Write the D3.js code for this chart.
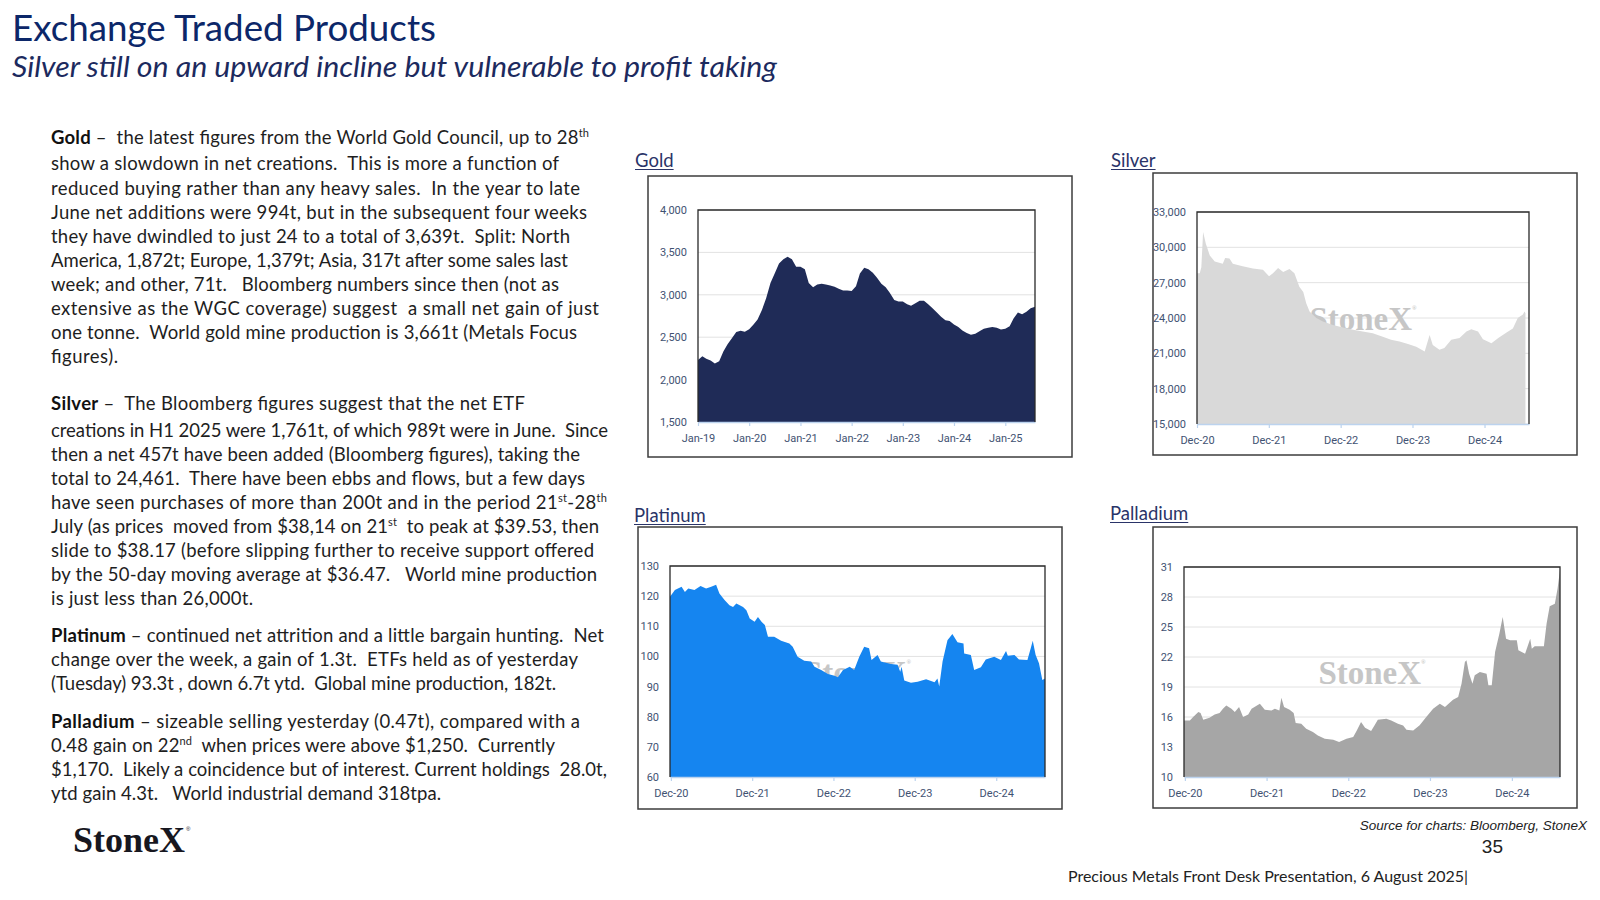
<!DOCTYPE html>
<html>
<head>
<meta charset="utf-8">
<script src="https://cdnjs.cloudflare.com/ajax/libs/d3/7.8.5/d3.min.js"></script>
<style>
  html, body { margin: 0; padding: 0; background: #ffffff; }
  svg { display: block; }
</style>
</head>
<body>
<svg id="slide" width="1600" height="900"></svg>
<script>
// ---------------- DATA ----------------
const goldDates = [
  "2019-01","2019-02","2019-03","2019-04","2019-05","2019-06","2019-07","2019-08","2019-09","2019-10","2019-11","2019-12",
  "2020-01","2020-02","2020-03","2020-04","2020-05","2020-06","2020-07","2020-08","2020-09","2020-10","2020-11","2020-12",
  "2021-01","2021-02","2021-03","2021-04","2021-05","2021-06","2021-07","2021-08","2021-09","2021-10","2021-11","2021-12",
  "2022-01","2022-02","2022-03","2022-04","2022-05","2022-06","2022-07","2022-08","2022-09","2022-10","2022-11","2022-12",
  "2023-01","2023-02","2023-03","2023-04","2023-05","2023-06","2023-07","2023-08","2023-09","2023-10","2023-11","2023-12",
  "2024-01","2024-02","2024-03","2024-04","2024-05","2024-06","2024-07","2024-08","2024-09","2024-10","2024-11","2024-12",
  "2025-01","2025-02","2025-03","2025-04","2025-05","2025-06","2025-07","2025-08"
];
const goldValues = [
  2230,2275,2245,2225,2190,2215,2330,2420,2490,2560,2575,2565,
  2595,2650,2710,2820,2960,3140,3250,3370,3420,3450,3420,3330,
  3330,3300,3140,3090,3120,3130,3120,3110,3095,3070,3050,3050,
  3045,3100,3250,3320,3300,3260,3200,3130,3090,3020,2940,2920,
  2920,2890,2870,2900,2930,2930,2890,2840,2790,2740,2700,2690,
  2650,2620,2580,2550,2530,2540,2570,2600,2610,2620,2610,2590,
  2600,2630,2720,2790,2770,2800,2840,2860
];
const goldYTicks = [1500, 2000, 2500, 3000, 3500, 4000];
const goldXTicks = ["2019-01","2020-01","2021-01","2022-01","2023-01","2024-01","2025-01"];
const goldXLabels = ["Jan-19","Jan-20","Jan-21","Jan-22","Jan-23","Jan-24","Jan-25"];
const goldDomain = ["2019-01","2025-08"];

const silverDates = ["2020-12-01","2020-12-15","2020-12-23","2021-01-01","2021-01-15","2021-02-04","2021-03-01","2021-04-11","2021-04-23","2021-05-15","2021-06-01","2021-07-21","2021-09-11","2021-11-01","2021-12-02","2021-12-22","2022-01-17","2022-02-12","2022-03-16","2022-04-10","2022-05-05","2022-05-25","2022-06-09","2022-06-26","2022-07-30","2022-09-02","2022-10-23","2022-12-13","2023-02-02","2023-03-23","2023-05-13","2023-07-03","2023-08-14","2023-09-26","2023-11-08","2023-12-20","2024-02-01","2024-02-26","2024-03-13","2024-04-16","2024-05-11","2024-06-15","2024-07-27","2024-08-31","2024-09-25","2024-10-29","2024-11-23","2025-01-05","2025-02-09","2025-03-21","2025-04-24","2025-05-19","2025-06-14","2025-06-22","2025-06-27"];
const silverValues = [27800,27800,28300,31300,30300,29300,28800,28600,29100,29050,28600,28400,28200,28100,27550,27800,28250,27900,28150,27800,26650,26200,25250,24550,24000,23700,23400,23200,23000,22850,22700,22400,22150,22000,21800,21550,21150,22550,21700,21300,21450,22150,22300,22850,23050,22850,22200,21850,22300,22750,23100,24000,24300,24550,24400];
const silverYTicks = [15000, 18000, 21000, 24000, 27000, 30000, 33000];
const silverXTicks = ["2020-12-01","2021-12-01","2022-12-01","2023-12-01","2024-12-01"];
const silverXLabels = ["Dec-20","Dec-21","Dec-22","Dec-23","Dec-24"];
const silverDomain = ["2020-12-01","2025-07-15"];

const platDates = ["2020-11-27","2020-12-19","2021-01-18","2021-02-02","2021-02-17","2021-03-17","2021-04-13","2021-05-08","2021-05-31","2021-06-22","2021-07-07","2021-07-30","2021-08-21","2021-09-06","2021-09-21","2021-10-21","2021-11-05","2021-11-20","2021-12-12","2021-12-27","2022-01-12","2022-01-27","2022-02-10","2022-03-10","2022-04-10","2022-05-17","2022-06-01","2022-06-23","2022-07-23","2022-08-23","2022-09-07","2022-10-07","2022-11-06","2022-12-06","2022-12-21","2023-01-13","2023-02-12","2023-03-04","2023-03-27","2023-04-18","2023-05-10","2023-05-21","2023-06-17","2023-07-02","2023-08-16","2023-09-15","2023-09-27","2023-10-03","2023-10-15","2023-11-14","2023-12-14","2024-01-21","2024-02-28","2024-03-12","2024-03-20","2024-04-04","2024-04-26","2024-05-18","2024-06-10","2024-07-07","2024-07-10","2024-08-09","2024-08-24","2024-09-23","2024-10-15","2024-11-22","2024-12-22","2025-01-14","2025-01-22","2025-02-21","2025-03-13","2025-04-20","2025-05-05","2025-05-14","2025-05-27","2025-06-11","2025-06-26","2025-07-08"];
const platValues = [119.8,122,123.1,121.4,122.5,122,123.4,122.5,123.1,123.8,120.9,118.7,117,116.4,117.6,116.4,115.3,112.6,111.5,113.1,111.5,110.4,106.5,106.5,105.2,104.3,103.2,99.9,98.6,98.3,96.6,95.5,94.2,93.6,93.1,95.5,96.6,95.5,99.9,103.2,102.7,98.8,100.5,98.3,97.5,97.2,94.9,96.6,92,91.3,91.6,92.4,91.4,92.7,90,98.3,105.4,107.4,104.7,104.3,101,100.5,95.5,96.4,99,99.9,98.8,101.8,100.2,100.5,99,98.8,102.7,105.2,100.5,97.7,92.2,92.7];
const platYTicks = [60, 70, 80, 90, 100, 110, 120, 130];
const platXTicks = ["2020-12-01","2021-12-01","2022-12-01","2023-12-01","2024-12-01"];
const platXLabels = ["Dec-20","Dec-21","Dec-22","Dec-23","Dec-24"];
const platDomain = ["2020-11-27","2025-07-08"];

const pallDates = ["2020-11-27","2020-12-23","2021-01-07","2021-01-30","2021-02-09","2021-02-21","2021-03-21","2021-04-13","2021-05-05","2021-05-20","2021-06-04","2021-06-27","2021-07-12","2021-07-31","2021-08-18","2021-09-10","2021-09-25","2021-11-01","2021-11-23","2021-12-23","2022-01-07","2022-01-27","2022-02-05","2022-02-17","2022-03-14","2022-04-01","2022-04-10","2022-05-05","2022-05-27","2022-06-26","2022-07-18","2022-08-18","2022-09-25","2022-10-21","2022-11-23","2022-12-23","2023-01-07","2023-01-27","2023-02-14","2023-03-13","2023-03-28","2023-04-12","2023-05-20","2023-06-11","2023-07-11","2023-08-03","2023-08-18","2023-09-17","2023-10-16","2023-11-08","2023-12-15","2024-01-14","2024-02-06","2024-03-13","2024-04-05","2024-04-20","2024-05-05","2024-05-12","2024-05-24","2024-06-08","2024-06-18","2024-07-11","2024-08-10","2024-08-18","2024-09-02","2024-09-17","2024-10-06","2024-10-21","2024-11-05","2024-11-23","2024-12-23","2024-12-30","2025-01-29","2025-02-21","2025-02-28","2025-03-13","2025-04-23","2025-05-05","2025-05-19","2025-06-11","2025-06-23","2025-07-04"];
const pallValues = [15.66,15.66,15.99,16.49,16.39,15.72,15.92,16.26,16.39,16.82,17.15,16.82,16.49,16.99,15.99,16.26,16.82,17.32,16.72,16.66,16.82,16.66,17.92,16.99,16.72,16.39,15.39,15.32,14.83,14.49,14.16,13.83,13.73,13.49,13.83,13.99,14.59,15.49,14.93,14.59,15.16,15.72,15.82,15.66,15.32,15.16,14.73,14.66,15.17,15.83,16.83,17.33,17.0,17.73,18.0,19.33,21.5,21.67,20.33,19.33,20.17,20.5,20.33,19.17,19.17,22.5,24.33,26.0,23.83,23.67,23.67,22.67,22.33,23.83,22.83,23.07,23.07,25.33,27.07,27.33,28.83,30.67];
const pallYTicks = [10, 13, 16, 19, 22, 25, 28, 31];
const pallXTicks = ["2020-12-01","2021-12-01","2022-12-01","2023-12-01","2024-12-01"];
const pallXLabels = ["Dec-20","Dec-21","Dec-22","Dec-23","Dec-24"];
const pallDomain = ["2020-11-27","2025-07-04"];

// text content
const titleText = "Exchange Traded Products";
const subtitleText = "Silver still on an upward incline but vulnerable to profit taking";
const bodyLines = [
  [["Gold","b"],[" –  the latest figures from the World Gold Council, up to 28",""],["th","s"]],
  [["show a slowdown in net creations.  This is more a function of",""]],
  [["reduced buying rather than any heavy sales.  In the year to late",""]],
  [["June net additions were 994t, but in the subsequent four weeks",""]],
  [["they have dwindled to just 24 to a total of 3,639t.  Split: North",""]],
  [["America, 1,872t; Europe, 1,379t; Asia, 317t after some sales last",""]],
  [["week; and other, 71t.   Bloomberg numbers since then (not as",""]],
  [["extensive as the WGC coverage) suggest  a small net gain of just",""]],
  [["one tonne.  World gold mine production is 3,661t (Metals Focus",""]],
  [["figures).",""]],
  [["Silver","b"],[" –  The Bloomberg figures suggest that the net ETF",""]],
  [["creations in H1 2025 were 1,761t, of which 989t were in June.  Since",""]],
  [["then a net 457t have been added (Bloomberg figures), taking the",""]],
  [["total to 24,461.  There have been ebbs and flows, but a few days",""]],
  [["have seen purchases of more than 200t and in the period 21",""],["st","s"],["-28",""],["th","s"]],
  [["July (as prices  moved from $38,14 on 21",""],["st","s"],["  to peak at $39.53, then",""]],
  [["slide to $38.17 (before slipping further to receive support offered",""]],
  [["by the 50-day moving average at $36.47.   World mine production",""]],
  [["is just less than 26,000t.",""]],
  [["Platinum","b"],[" – continued net attrition and a little bargain hunting.  Net",""]],
  [["change over the week, a gain of 1.3t.  ETFs held as of yesterday",""]],
  [["(Tuesday) 93.3t , down 6.7t ytd.  Global mine production, 182t.",""]],
  [["Palladium","b"],[" – sizeable selling yesterday (0.47t), compared with a",""]],
  [["0.48 gain on 22",""],["nd","s"],["  when prices were above $1,250.  Currently",""]],
  [["$1,170.  Likely a coincidence but of interest. Current holdings  28.0t,",""]],
  [["ytd gain 4.3t.   World industrial demand 318tpa.",""]]
];
const sourceText = "Source for charts: Bloomberg, StoneX";
const pageNumber = "35";
const footerText = "Precious Metals Front Desk Presentation, 6 August 2025|";
const logoText = "StoneX";

// ---------------- LAYOUT ----------------
const bodyLayout = {
  x: 51,
  baselines: [144,170.4,194.5,218.6,242.7,266.8,290.9,315,339.1,363.2,
              410.2,436.7,460.8,484.9,509,533.1,557.2,581.3,605.4,
              641.8,665.9,690,
              727.5,751.6,775.7,799.8],
  widths: [538,508,529,536,519,517,508,548,526,67,
           474,557,529,534,556,548,543,546,202,
           553,527,505,
           529,504,556,390]
};

const charts = [
  { name: "Gold", dates: goldDates, values: goldValues, fmt: "%Y-%m", domain: goldDomain,
    yTicks: goldYTicks, xTicks: goldXTicks, xLabels: goldXLabels, yFormat: d3.format(","),
    color: "#1f2b57", title: [635, 167], outer: [648, 176, 1072, 457], plot: [698, 210, 1035, 422] },
  { name: "Silver", dates: silverDates, values: silverValues, fmt: "%Y-%m-%d", domain: silverDomain,
    yTicks: silverYTicks, xTicks: silverXTicks, xLabels: silverXLabels, yFormat: d3.format(","),
    color: "#d9d9d9", title: [1111, 167], outer: [1153, 173, 1577, 455], plot: [1197, 212, 1529, 424] },
  { name: "Platinum", dates: platDates, values: platValues, fmt: "%Y-%m-%d", domain: platDomain,
    yTicks: platYTicks, xTicks: platXTicks, xLabels: platXLabels, yFormat: d3.format("d"),
    color: "#1585f0", title: [634, 522], outer: [638, 527, 1062, 809], plot: [670, 566, 1045, 777] },
  { name: "Palladium", dates: pallDates, values: pallValues, fmt: "%Y-%m-%d", domain: pallDomain,
    yTicks: pallYTicks, xTicks: pallXTicks, xLabels: pallXLabels, yFormat: d3.format("d"),
    color: "#a6a6a6", title: [1110, 520], outer: [1153, 527, 1577, 808], plot: [1184, 567, 1560, 777] }
];

// ---------------- DRAW ----------------
const svg = d3.select("#slide");
svg.append("rect").attr("width", 1600).attr("height", 900).attr("fill", "#ffffff");

// Title & subtitle
svg.append("text").attr("x", 12).attr("y", 41)
  .attr("font-family", "Lato, 'Open Sans', sans-serif").attr("font-size", 37)
  .attr("fill", "#0c2769").attr("textLength", 424).attr("lengthAdjust", "spacingAndGlyphs")
  .text(titleText);
svg.append("text").attr("x", 12).attr("y", 76.5)
  .attr("font-family", "Lato, 'Open Sans', sans-serif").attr("font-size", 29).attr("font-style", "italic")
  .attr("fill", "#1c2a5e").attr("textLength", 765).attr("lengthAdjust", "spacingAndGlyphs")
  .text(subtitleText);

// Body text
bodyLines.forEach((runs, i) => {
  const t = svg.append("text")
    .attr("x", bodyLayout.x).attr("y", bodyLayout.baselines[i])
    .attr("font-family", "Lato, 'Open Sans', sans-serif").attr("font-size", 18.5)
    .attr("fill", "#1e1e1e").attr("xml:space", "preserve").style("white-space", "pre");
  let reset = false;
  runs.forEach(([s, k]) => {
    const ts = t.append("tspan").text(s);
    if (reset) { ts.attr("dy", 7); reset = false; }
    if (k === "b") ts.attr("font-weight", 700).attr("fill", "#111111");
    if (k === "s") { ts.attr("dy", -7).attr("font-size", 11); reset = true; }
  });
  t.attr("textLength", bodyLayout.widths[i]).attr("lengthAdjust", "spacing");
});

// Logo
const logo = svg.append("text").attr("x", 73).attr("y", 852)
  .attr("font-family", "'Liberation Serif', 'DejaVu Serif', serif").attr("font-size", 36)
  .attr("font-weight", 700).attr("fill", "#17171f").text(logoText);
svg.append("text").attr("x", 186).attr("y", 831).attr("font-family", "'Liberation Sans', sans-serif")
  .attr("font-size", 6).attr("fill", "#17171f").text("®");

// Footer
svg.append("text").attr("x", 1587).attr("y", 830).attr("text-anchor", "end")
  .attr("font-family", "'Liberation Sans', Arial, sans-serif").attr("font-size", 13.5)
  .attr("font-style", "italic").attr("fill", "#222222").text(sourceText);
svg.append("text").attr("x", 1503).attr("y", 853).attr("text-anchor", "end")
  .attr("font-family", "'Liberation Sans', Arial, sans-serif").attr("font-size", 19)
  .attr("fill", "#222222").text(pageNumber);
svg.append("text").attr("x", 1068).attr("y", 882)
  .attr("font-family", "Lato, 'Open Sans', sans-serif").attr("font-size", 16)
  .attr("fill", "#222222").attr("textLength", 400).attr("lengthAdjust", "spacing").text(footerText);

// Charts
charts.forEach((c, ci) => {
  const parse = d3.timeParse(c.fmt);
  const n = Math.min(c.dates.length, c.values.length);
  const data = d3.range(n).map(i => ({ date: parse(c.dates[i]), v: c.values[i] }));
  const [px0, py0, px1, py1] = c.plot;
  const [ox0, oy0, ox1, oy1] = c.outer;
  const g = svg.append("g");

  // chart title (underlined)
  const tt = g.append("text").attr("x", c.title[0]).attr("y", c.title[1])
    .attr("font-family", "Lato, 'Open Sans', sans-serif").attr("font-size", 18.5)
    .attr("fill", "#2a3468").text(c.name);
  const tw = tt.node().getComputedTextLength();
  g.append("line").attr("x1", c.title[0]).attr("x2", c.title[0] + tw)
    .attr("y1", c.title[1] + 2.5).attr("y2", c.title[1] + 2.5)
    .attr("stroke", "#2a3468").attr("stroke-width", 1);

  // outer frame
  g.append("rect").attr("x", ox0).attr("y", oy0).attr("width", ox1 - ox0).attr("height", oy1 - oy0)
    .attr("fill", "#ffffff").attr("stroke", "#3c3c3c").attr("stroke-width", 1.5);

  const x = d3.scaleTime().domain(c.domain.map(parse)).range([px0, px1]);
  const y = d3.scaleLinear().domain([c.yTicks[0], c.yTicks[c.yTicks.length - 1]]).range([py1, py0]);

  // gridlines
  g.append("g").selectAll("line").data(c.yTicks).join("line")
    .attr("x1", px0).attr("x2", px1).attr("y1", d => y(d)).attr("y2", d => y(d))
    .attr("stroke", "#e2e2e2").attr("stroke-width", 1);

  // watermark
  const wm = g.append("text").attr("x", (px0 + px1) / 2).attr("y", (py0 + py1) / 2 + 12)
    .attr("text-anchor", "middle")
    .attr("font-family", "'Liberation Serif', 'DejaVu Serif', serif").attr("font-size", 33)
    .attr("font-weight", 700).attr("fill", "#c6c6c6");
  wm.append("tspan").text("StoneX");
  wm.append("tspan").attr("font-size", 6).attr("dy", -20).text("®");

  // area
  const clipId = "clip" + ci;
  g.append("clipPath").attr("id", clipId).append("rect")
    .attr("x", px0).attr("y", py0).attr("width", px1 - px0).attr("height", py1 - py0);
  const area = d3.area().x(d => x(d.date)).y0(y(c.yTicks[0])).y1(d => y(d.v)).curve(d3.curveLinear);
  g.append("path").datum(data).attr("d", area).attr("fill", c.color).attr("clip-path", `url(#${clipId})`);

  // x axis
  const xa = g.append("g").attr("transform", `translate(0,${py1})`)
    .call(d3.axisBottom(x).tickValues(c.xTicks.map(parse)).tickFormat((d, i) => c.xLabels[i])
      .tickSize(4).tickSizeOuter(0).tickPadding(8));
  xa.select(".domain").attr("stroke", "#bcd3ee").attr("stroke-width", 1.5);
  xa.selectAll(".tick line").attr("stroke", "#bcd3ee").attr("stroke-width", 1.2);
  xa.selectAll(".tick text").attr("fill", "#3f5272")
    .attr("font-family", "Roboto, 'Noto Sans', sans-serif").attr("font-size", 11);

  // y axis
  const ya = g.append("g").attr("transform", `translate(${px0},0)`)
    .call(d3.axisLeft(y).tickValues(c.yTicks).tickFormat(c.yFormat).tickSize(0).tickPadding(11));
  ya.select(".domain").remove();
  ya.selectAll(".tick text").attr("fill", "#3f5272")
    .attr("font-family", "Roboto, 'Noto Sans', sans-serif").attr("font-size", 11);

  // plot border (top, left, right)
  g.append("path")
    .attr("d", `M${px0},${py1}V${py0}H${px1}V${py1}`)
    .attr("fill", "none").attr("stroke", "#2a2a2a").attr("stroke-width", 1.3);
});
</script>
</body>
</html>
